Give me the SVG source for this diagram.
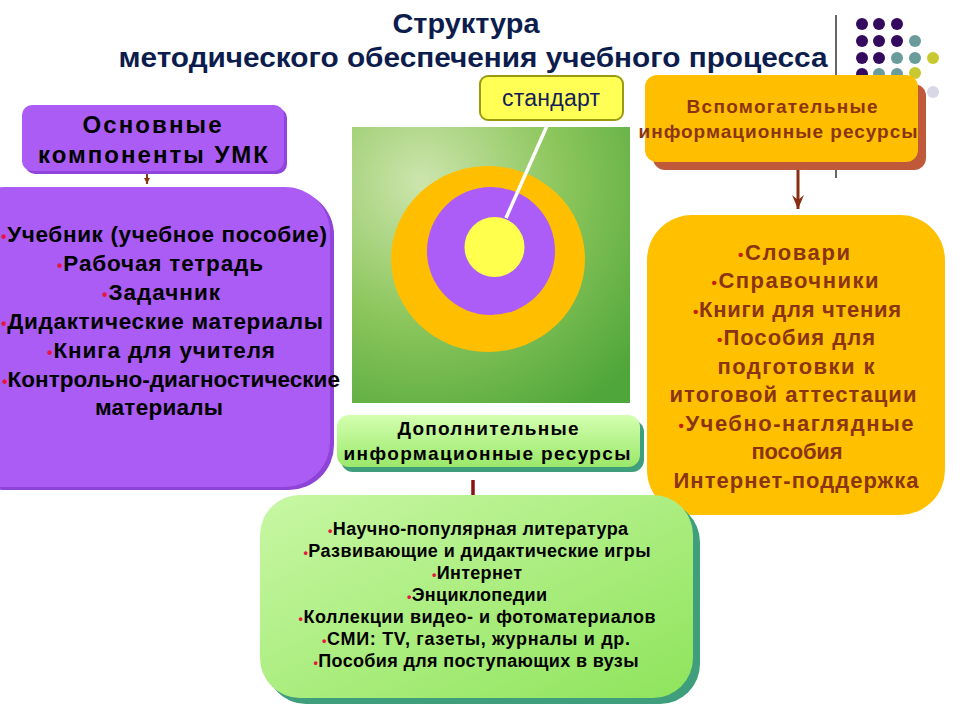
<svg xmlns="http://www.w3.org/2000/svg" width="960" height="720" viewBox="0 0 960 720">
<defs>
<radialGradient id="sq" cx="0.25" cy="0.2" r="1.0">
<stop offset="0" stop-color="#cde5ad"/>
<stop offset="0.5" stop-color="#8cc65c"/>
<stop offset="1" stop-color="#4fa63a"/>
</radialGradient>
<linearGradient id="gr" x1="0" y1="0" x2="0" y2="1">
<stop offset="0" stop-color="#d4ffb0"/>
<stop offset="1" stop-color="#9ae86a"/>
</linearGradient>
<linearGradient id="gr2" x1="0" y1="0" x2="1" y2="1">
<stop offset="0" stop-color="#c8f7a4"/>
<stop offset="1" stop-color="#8fe45c"/>
</linearGradient>
<marker id="vhead" viewBox="0 0 14 12" refX="14" refY="6" markerWidth="14" markerHeight="12" markerUnits="userSpaceOnUse" orient="auto">
<path d="M0,0 L14,6 L0,12 L5,6 Z" fill="#8a2e12"/>
</marker>
<marker id="shead" viewBox="0 0 6 6" refX="6" refY="3" markerWidth="6" markerHeight="6" markerUnits="userSpaceOnUse" orient="auto">
<path d="M0,0 L6,3 L0,6 Z" fill="#8a3a12"/>
</marker>
</defs>
<style>
.t{font-family:"Liberation Sans",Arial,sans-serif;font-weight:bold;text-anchor:middle}
.title{font-size:27px;fill:#0c1d4d}
.blk{fill:#000}
.brn{fill:#8b3412}
.bl{fill:#e8153e;font-size:0.7em}
.blo{fill:#c81e0a;font-size:0.7em}
.dp{fill:#330a5e}.tl{fill:#6a9c9c}.yg{fill:#c8c830}.lg{fill:#d8d8e6}
</style>
<rect width="960" height="720" fill="#ffffff"/>

<g id="title">
<text class="t title" x="466" y="33" textLength="147" lengthAdjust="spacingAndGlyphs">Структура</text>
<text class="t title" x="473" y="67" textLength="709" lengthAdjust="spacingAndGlyphs">методического обеспечения учебного процесса</text>
</g>

<g id="decor">
<line x1="836" y1="15" x2="836" y2="178" stroke="#000" stroke-width="1.2"/>
<circle class="dp" cx="862" cy="24" r="6"/><circle class="dp" cx="879" cy="24" r="6"/><circle class="dp" cx="897" cy="24" r="6"/>
<circle class="dp" cx="862" cy="41" r="6"/><circle class="dp" cx="879" cy="41" r="6"/><circle class="dp" cx="897" cy="41" r="6"/><circle class="tl" cx="915" cy="41" r="6"/>
<circle class="dp" cx="862" cy="58" r="6"/><circle class="dp" cx="879" cy="58" r="6"/><circle class="tl" cx="897" cy="58" r="6"/><circle class="tl" cx="915" cy="58" r="6"/><circle class="yg" cx="933" cy="58" r="6"/>
<circle class="dp" cx="862" cy="74" r="6"/><circle class="tl" cx="879" cy="74" r="6"/><circle class="tl" cx="897" cy="74" r="6"/><circle class="yg" cx="915" cy="73" r="6"/>
<circle class="lg" cx="933" cy="92" r="6"/>
</g>

<g id="center">
<rect x="352" y="127" width="278" height="276" fill="url(#sq)"/>
<ellipse cx="488" cy="259" rx="97" ry="93" fill="#ffbf00"/>
<circle cx="491" cy="251" r="64" fill="#ac5cf7"/>
<circle cx="494.5" cy="247" r="30" fill="#ffff4d"/>
</g>

<g id="connectors">
<line x1="147" y1="172" x2="147" y2="184" stroke="#8a3a12" stroke-width="2" marker-end="url(#shead)"/>
<line x1="798" y1="168" x2="798" y2="209" stroke="#8a2e12" stroke-width="3" marker-end="url(#vhead)"/>
<line x1="473" y1="480" x2="473" y2="496" stroke="#8b1010" stroke-width="3.5"/>
<line x1="506" y1="218" x2="550" y2="119" stroke="#ffffff" stroke-width="3.5"/>
</g>

<g id="standart">
<rect x="480" y="76" width="143" height="44" rx="8" fill="#ffff55" stroke="#9a9a10" stroke-width="2"/>
<text x="551" y="106" textLength="98" style="font-family:'Liberation Sans',Arial,sans-serif;font-size:23px;fill:#14205a;text-anchor:middle">стандарт</text>
</g>

<g id="umk-header">
<rect x="25" y="108" width="262" height="66" rx="10" fill="#9044dc"/>
<rect x="22" y="105" width="262" height="66" rx="10" fill="#aa5cf5"/>
<text class="t blk" x="152" y="133" font-size="24" textLength="139">Основные</text>
<text class="t blk" x="153" y="163" font-size="24" textLength="230">компоненты УМК</text>
</g>

<g id="umk-list">
<rect x="-40" y="190" width="374" height="300" rx="45" fill="#8e44d6"/>
<rect x="-40" y="187" width="370" height="300" rx="45" fill="#aa5cf5"/>
<g class="t blk" font-size="22.5">
<text x="164" y="242" textLength="326"><tspan class="bl">•</tspan>Учебник (учебное пособие)</text>
<text x="160" y="271" textLength="206"><tspan class="bl">•</tspan>Рабочая тетрадь</text>
<text x="161" y="300" textLength="118"><tspan class="bl">•</tspan>Задачник</text>
<text x="162" y="329" textLength="322"><tspan class="bl">•</tspan>Дидактические материалы</text>
<text x="161" y="358" textLength="228"><tspan class="bl">•</tspan>Книга для учителя</text>
<text x="171" y="387" textLength="338"><tspan class="bl">•</tspan>Контрольно-диагностические</text>
<text x="159" y="415" textLength="128">материалы</text>
</g>
</g>

<g id="aux-header">
<rect x="653" y="84" width="273" height="86" rx="12" fill="#c0583a"/>
<rect x="645" y="75" width="273" height="87" rx="12" fill="#ffbf00"/>
<text class="t brn" x="782" y="113" font-size="19" textLength="191">Вспомогательные</text>
<text class="t brn" x="778" y="138" font-size="19" textLength="279">информационные ресурсы</text>
</g>

<g id="aux-list">
<rect x="647" y="215" width="298" height="300" rx="45" fill="#ffc000"/>
<g class="t brn" font-size="22">
<text x="794" y="260" textLength="112"><tspan class="blo">•</tspan>Словари</text>
<text x="795" y="288" textLength="167"><tspan class="blo">•</tspan>Справочники</text>
<text x="797" y="317" textLength="208"><tspan class="blo">•</tspan>Книги для чтения</text>
<text x="796" y="345" textLength="158"><tspan class="blo">•</tspan>Пособия для</text>
<text x="796" y="374" textLength="157">подготовки к</text>
<text x="793" y="402" textLength="247">итоговой аттестации</text>
<text x="796" y="431" textLength="235"><tspan class="blo">•</tspan>Учебно-наглядные</text>
<text x="797" y="459" textLength="91">пособия</text>
<text x="796" y="488" textLength="245">Интернет-поддержка</text>
</g>
</g>

<g id="extra-header">
<rect x="341" y="420" width="303" height="52" rx="12" fill="#3f9f7c"/>
<rect x="337" y="415" width="303" height="52" rx="12" fill="url(#gr)"/>
<text class="t blk" x="488" y="435" font-size="19" textLength="181">Дополнительные</text>
<text class="t blk" x="487" y="460" font-size="19" textLength="287">информационные ресурсы</text>
</g>

<g id="extra-list">
<rect x="266" y="502" width="434" height="202" rx="40" fill="#3f9f7c"/>
<rect x="260" y="495" width="433" height="203" rx="40" fill="url(#gr2)"/>
<g class="t blk" font-size="18">
<text x="478" y="535" textLength="300"><tspan class="bl">•</tspan>Научно-популярная литература</text>
<text x="477" y="557" textLength="347"><tspan class="bl">•</tspan>Развивающие и дидактические игры</text>
<text x="477" y="579" textLength="90"><tspan class="bl">•</tspan>Интернет</text>
<text x="477" y="601" textLength="140"><tspan class="bl">•</tspan>Энциклопедии</text>
<text x="477" y="623" textLength="357"><tspan class="bl">•</tspan>Коллекции видео- и фотоматериалов</text>
<text x="476" y="645" textLength="308"><tspan class="bl">•</tspan>СМИ: TV,  газеты, журналы и др.</text>
<text x="476" y="667" textLength="325"><tspan class="bl">•</tspan>Пособия для поступающих в вузы</text>
</g>
</g>
</svg>
